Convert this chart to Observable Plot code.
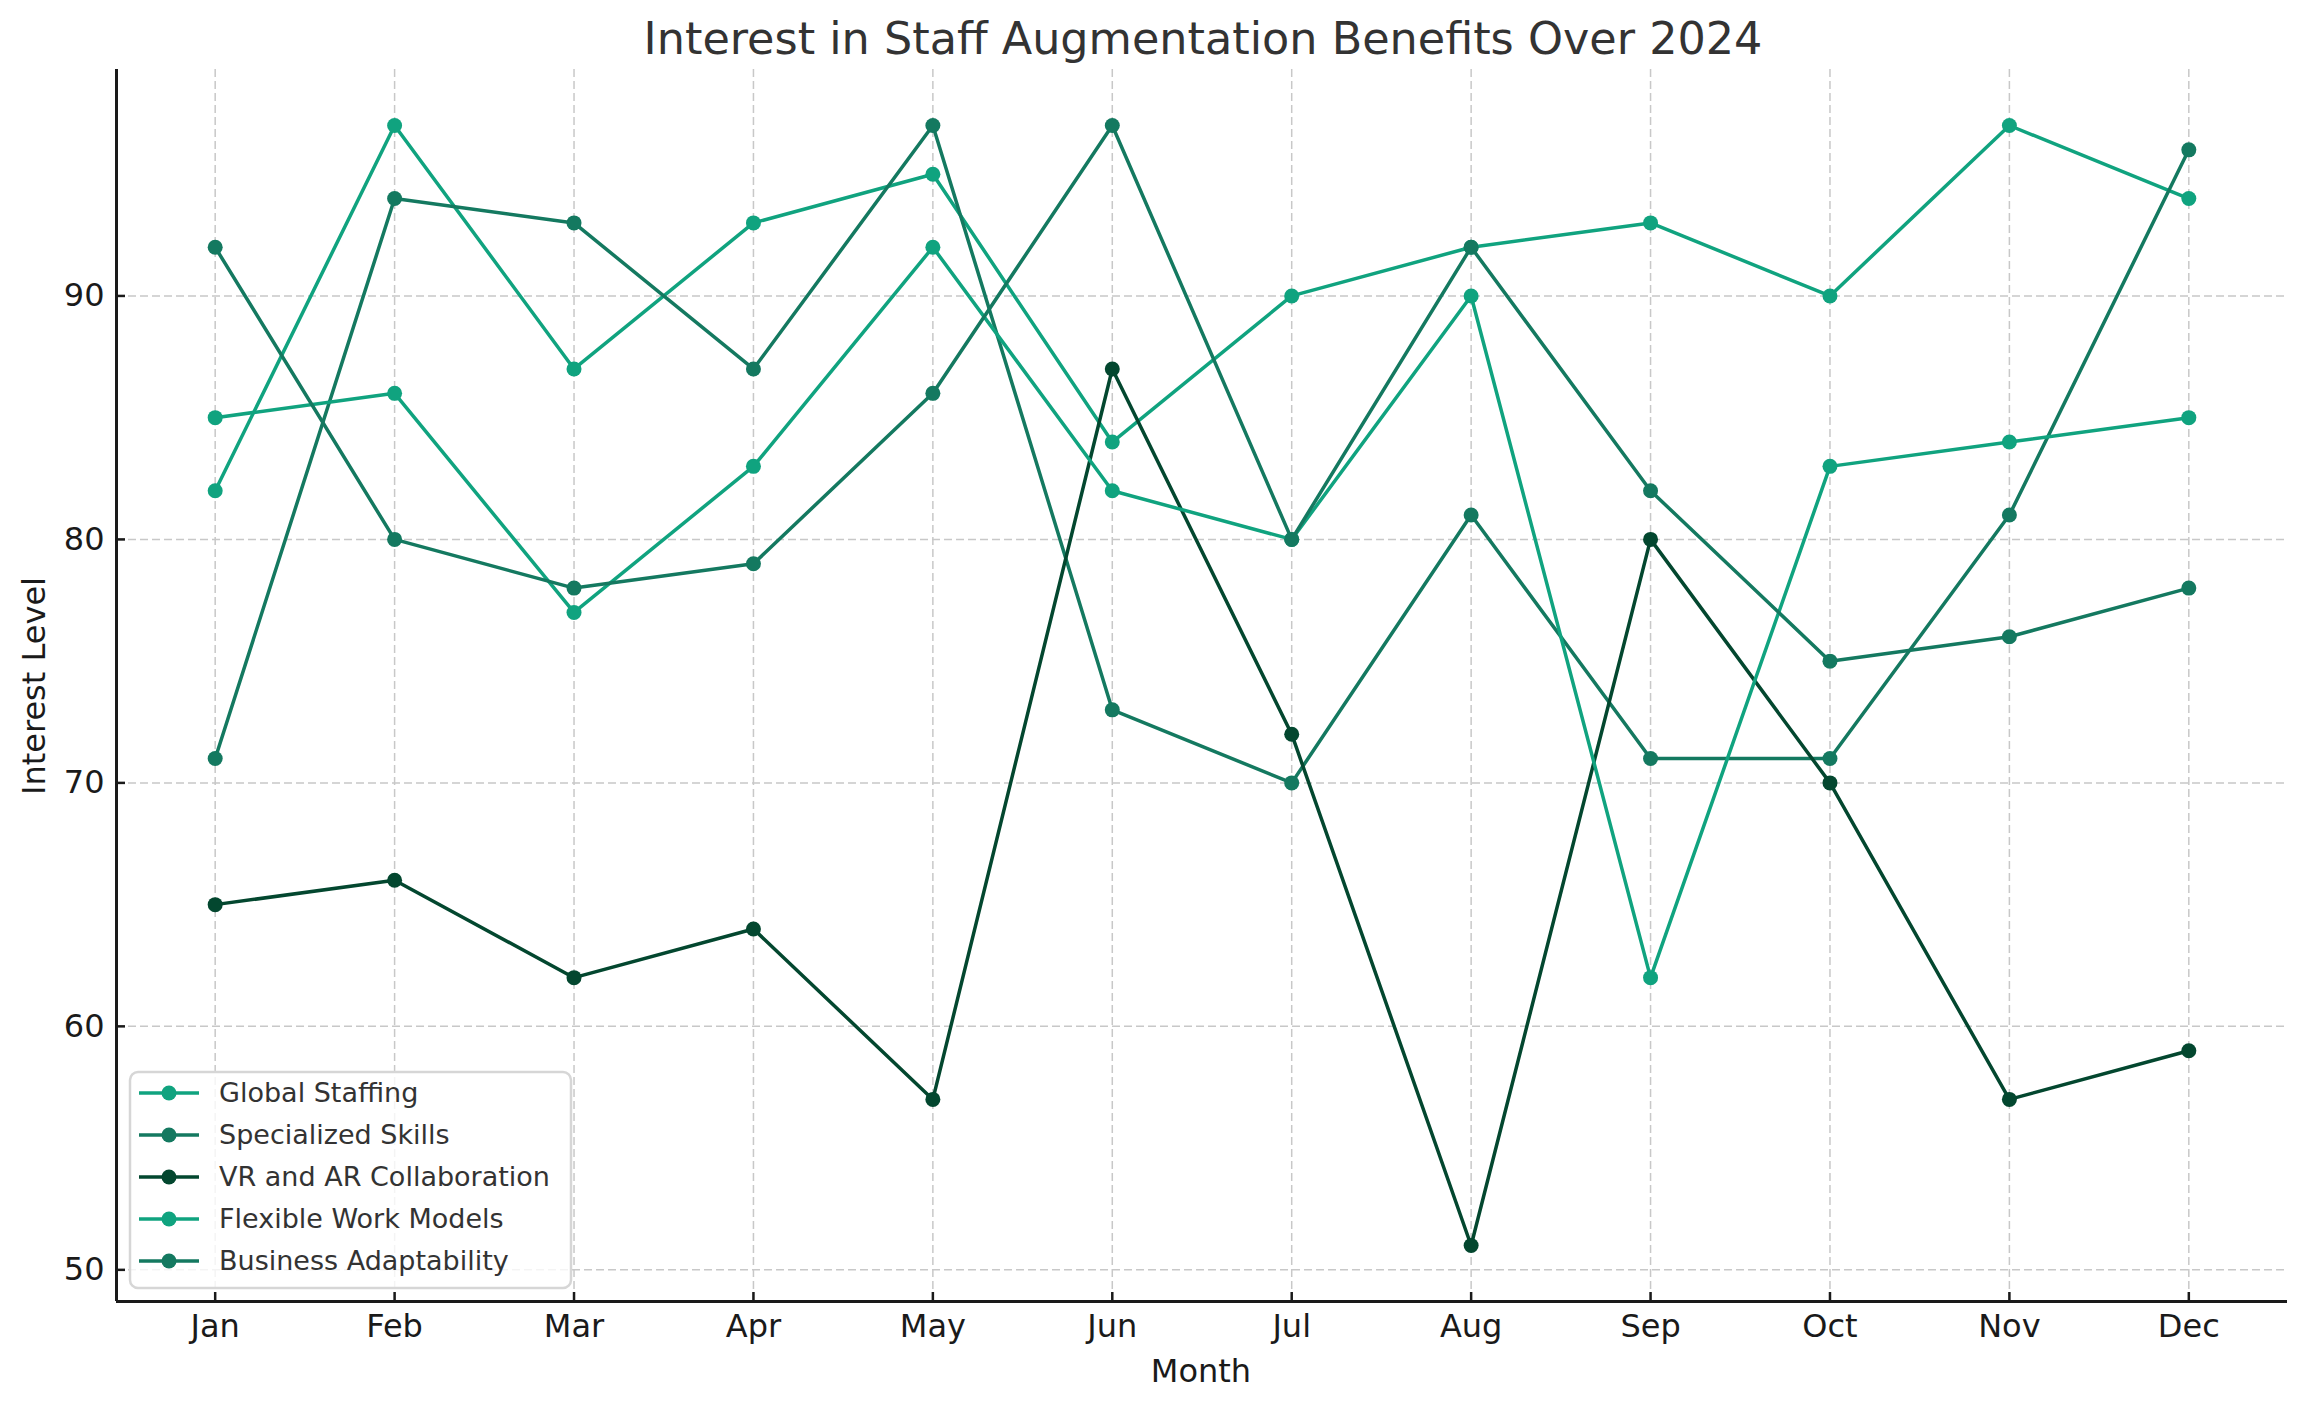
<!DOCTYPE html>
<html>
<head>
<meta charset="utf-8">
<script src="https://cdn.jsdelivr.net/npm/d3@7"></script>
<script src="https://cdn.jsdelivr.net/npm/@observablehq/plot@0.6"></script>
<style>
  html, body { margin: 0; padding: 0; background: #ffffff; }
  #wrap { position: relative; width: 2306px; height: 1409px; font-family: "DejaVu Sans", sans-serif; overflow: hidden; }
  #titlebox { position: relative; height: 60px; }
  #title { position: absolute; left: 1203px; top: 17px; transform: translateX(-50%); font-size: 44.5px; line-height: 1; color: #333333; white-space: nowrap; }
  .axlabel { position: absolute; font-size: 32px; line-height: 1; color: #1a1a1a; white-space: nowrap; }
  #xlabel { left: 1201px; top: 1371px; transform: translate(-50%, -50%); }
  #ylabel { left: 34px; top: 686px; transform: translate(-50%, -50%) rotate(-90deg); }
  #legend { position: absolute; left: 120px; top: 1060px; }
</style>
</head>
<body>
<div id="wrap">
  <div id="titlebox"><div id="title">Interest in Staff Augmentation Benefits Over 2024</div></div>
  <div id="chart"></div>
  <div class="axlabel" id="xlabel">Month</div>
  <div class="axlabel" id="ylabel">Interest Level</div>
  <div id="legend"></div>
</div>
<script>
// ---- Data ----
const months = ["Jan", "Feb", "Mar", "Apr", "May", "Jun", "Jul", "Aug", "Sep", "Oct", "Nov", "Dec"];
const seriesNames = ["Global Staffing", "Specialized Skills", "VR and AR Collaboration", "Flexible Work Models", "Business Adaptability"];
const globalStaffing       = [82, 97, 87, 93, 95, 84, 90, 92, 93, 90, 97, 94];
const specializedSkills    = [71, 94, 93, 87, 97, 73, 70, 81, 71, 71, 81, 96];
const vrArCollaboration    = [65, 66, 62, 64, 57, 87, 72, 51, 80, 70, 57, 59];
const flexibleWorkModels   = [85, 86, 77, 83, 92, 82, 80, 90, 62, 83, 84, 85];
const businessAdaptability = [92, 80, 78, 79, 86, 97, 80, 92, 82, 75, 76, 78];
const yTicks = [50, 60, 70, 80, 90];

const seriesValues = [globalStaffing, specializedSkills, vrArCollaboration, flexibleWorkModels, businessAdaptability];
const seriesColors = ["#10a37f", "#147960", "#03472f", "#10a37f", "#147960"];

const monthIdx = months.map((_, i) => i);
const table = seriesNames.map((name, s) =>
  seriesValues[s].map((v, i) => ({series: name, i, month: months[i], value: v}))
);

// ---- Layout ----
const W = 2306, H = 1349;
const mL = 116, mR = 19, mT = 9, mB = 108;
const frameW = W - mL - mR, frameH = H - mT - mB;
const xDom = [-0.55, 11.55];
const yDom = [48.7, 99.3];
const axisColor = "#1a1a1a";
const lineW = 3.5, dotR = 7.5;
const gridStyle = {stroke: "#c8c8c8", strokeOpacity: 1, strokeWidth: 1.5, strokeDasharray: "8,4"};

const marks = [
  Plot.gridX(monthIdx, gridStyle),
  Plot.gridY(yTicks, gridStyle)
];
table.forEach((rows, s) => {
  marks.push(Plot.line(rows, {x: "i", y: "value", stroke: seriesColors[s], strokeWidth: lineW}));
  marks.push(Plot.dot(rows, {x: "i", y: "value", fill: seriesColors[s], r: dotR}));
});
marks.push(
  Plot.axisX(monthIdx, {tickSize: 0, tickPadding: 13, tickFormat: d => months[d], fontSize: 32, label: null}),
  Plot.axisY(yTicks, {tickSize: 0, tickPadding: 12, fontSize: 32, label: null}),
  Plot.tickX(monthIdx, {x: d => d, insetTop: frameH - 9, stroke: axisColor, strokeWidth: 2.5}),
  Plot.tickY(yTicks, {y: d => d, insetRight: frameW - 9, stroke: axisColor, strokeWidth: 2.5}),
  Plot.ruleX([xDom[0]], {stroke: axisColor, strokeWidth: 3}),
  Plot.ruleY([yDom[0]], {stroke: axisColor, strokeWidth: 3})
);

const chart = Plot.plot({
  width: W,
  height: H,
  marginLeft: mL,
  marginRight: mR,
  marginTop: mT,
  marginBottom: mB,
  x: {type: "linear", domain: xDom, label: null},
  y: {type: "linear", domain: yDom, label: null},
  style: {fontFamily: "DejaVu Sans, sans-serif", fontSize: "32px", color: axisColor, background: "#ffffff", overflow: "visible"},
  marks
});
document.getElementById("chart").appendChild(chart);

// ---- Legend ----
const lg = d3.select("#legend").append("svg")
  .attr("width", 480).attr("height", 250)
  .style("overflow", "visible");
lg.append("rect")
  .attr("x", 10).attr("y", 12).attr("width", 441).attr("height", 216)
  .attr("rx", 8).attr("ry", 8)
  .attr("fill", "rgba(255,255,255,0.8)")
  .attr("stroke", "#d6d6d6").attr("stroke-width", 2.5);
seriesNames.forEach((name, s) => {
  const y = 33 + s * 42;
  const g = lg.append("g");
  g.append("line").attr("x1", 19).attr("x2", 79).attr("y1", y).attr("y2", y)
    .attr("stroke", seriesColors[s]).attr("stroke-width", lineW);
  g.append("circle").attr("cx", 49).attr("cy", y).attr("r", dotR).attr("fill", seriesColors[s]);
  g.append("text").attr("x", 99).attr("y", y).attr("dy", "0.35em")
    .attr("font-family", "DejaVu Sans, sans-serif").attr("font-size", 27)
    .attr("fill", "#333333").text(name);
});
</script>
</body>
</html>
